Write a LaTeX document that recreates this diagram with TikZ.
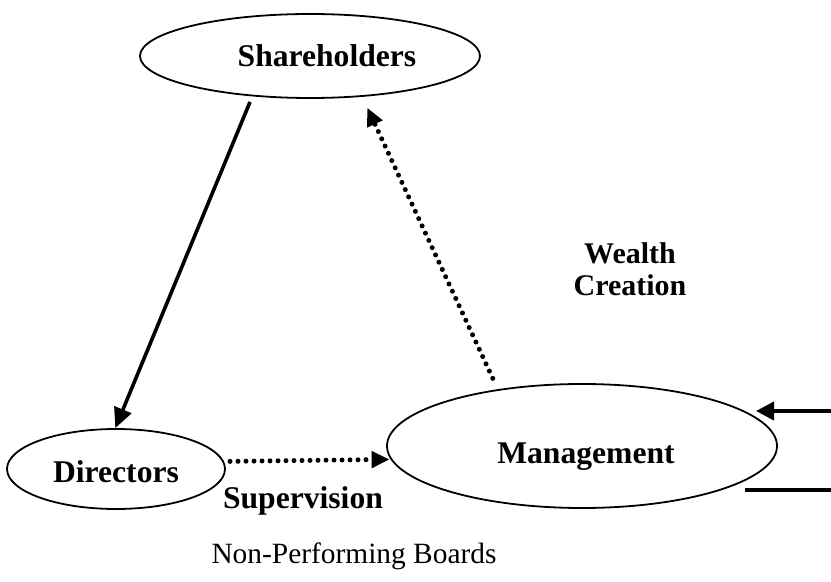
\documentclass[tikz,border=0pt]{standalone}
\usepackage{fontspec}
\setmainfont{Liberation Serif}
\usetikzlibrary{shapes.geometric,arrows.meta}
\begin{document}
\begin{tikzpicture}[x=0.5pt,y=-0.5pt,
  oval/.style={draw,ellipse,line width=0.9pt,inner sep=0pt},
  lbl/.style={font=\bfseries\fontsize{15.8}{18}\selectfont,inner sep=0pt},
  solidarrow/.style={line width=1.8pt,-{Triangle[length=10pt,width=9pt]}},
  dotarrow/.style={line width=2.5pt,line cap=round,dash pattern=on 0pt off 4pt,
     -{Triangle[length=9pt,width=8pt,line cap=butt]}},
  thickline/.style={line width=2pt}]
\useasboundingbox (0,0) rectangle (831,582);
% ellipses
\node[oval,minimum width=170pt,minimum height=42pt] (sh) at (310,56) {};
\node[oval,minimum width=109pt,minimum height=40pt] (dir) at (116,469) {};
\node[oval,minimum width=195pt,minimum height=62pt] (mg) at (582,446) {};
% labels
\node[lbl] (tsh) at (327,56) {Shareholders};
\node[lbl] (tdir) at (116,472) {Directors};
\node[lbl] (tmg) at (586,457) {Management};
\node[lbl] (tsup) at (303,501) {Supervision};
\node[lbl,font=\bfseries\fontsize{15}{18}\selectfont] (tw) at (630,253) {Wealth};
\node[lbl,font=\bfseries\fontsize{15}{18}\selectfont] (tc) at (630,285) {Creation};
\node[inner sep=0pt,font=\fontsize{14.7}{17}\selectfont] (title) at (354,556) {Non-Performing Boards};
% connectors
\draw[solidarrow,shorten <=3pt] (sh.215) -- (dir.91);
\draw[dotarrow,shorten <=6pt,shorten >=6pt] (mg.146) -- (sh.322);
\draw[dotarrow,shorten <=3pt,shorten >=0.5pt] (dir.4.8) -- (mg.184.2);
\coordinate (inR) at (831,411);
\coordinate (inT) at (756,411);
\draw[thickline,-{Triangle[length=9pt,width=9pt]}] (inR) -- (inT);
\coordinate (outL) at (745,490);
\coordinate (outR) at (831,490);
\draw[thickline] (outL) -- (outR);
\end{tikzpicture}
\end{document}
